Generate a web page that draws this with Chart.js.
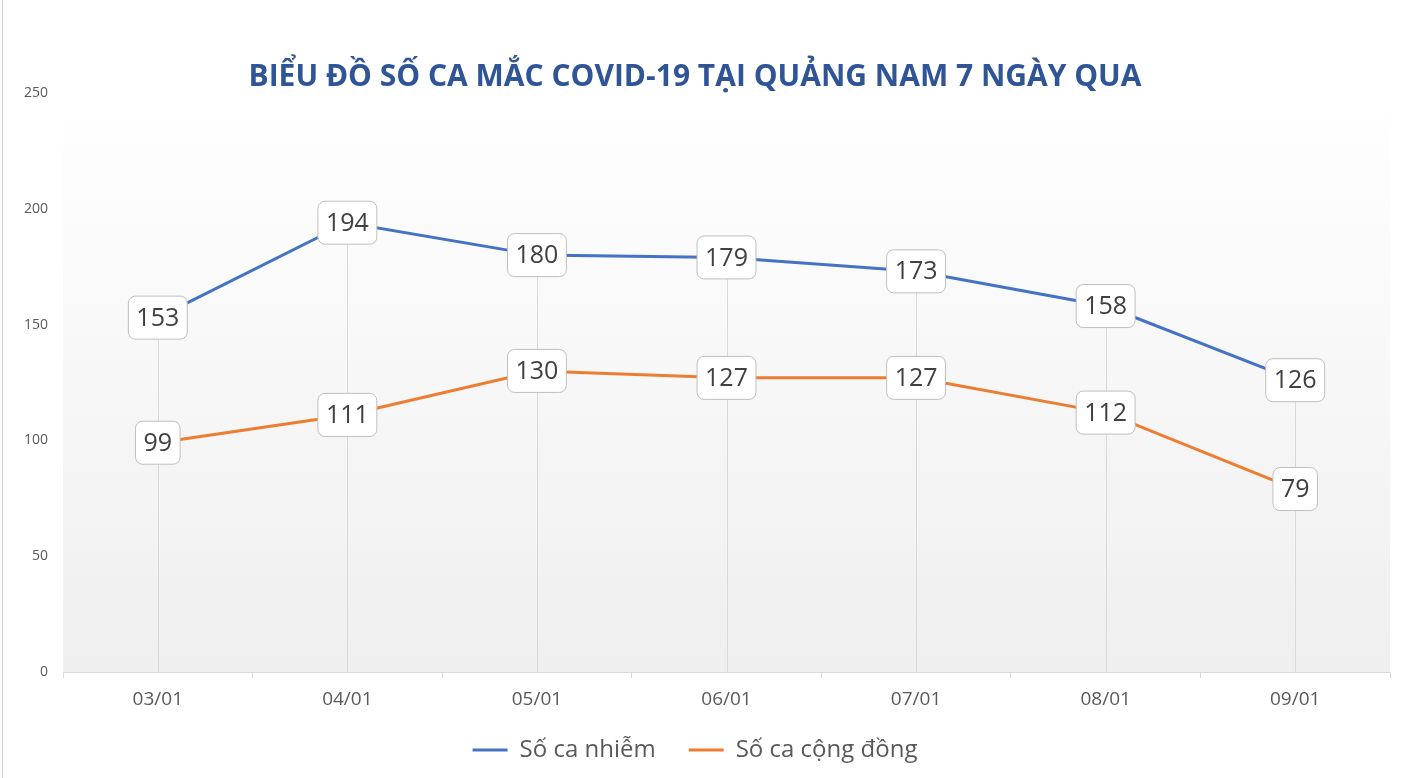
<!DOCTYPE html>
<html>
<head>
<meta charset="utf-8">
<script src="https://cdn.jsdelivr.net/npm/chart.js@4.4.1/dist/chart.umd.min.js"></script>
<style>
  html, body { margin: 0; padding: 0; background: #fff; }
  #wrap { position: relative; width: 1408px; height: 778px; }
  #edge { position: absolute; left: 2px; top: 0; width: 1px; height: 778px; background: #d4d4d4; }
</style>
</head>
<body>
<div id="wrap">
  <div id="edge"></div>
  <canvas id="covidChart" width="1408" height="778"></canvas>
</div>
<script>
const days = ['03/01', '04/01', '05/01', '06/01', '07/01', '08/01', '09/01'];
const infected = [153, 194, 180, 179, 173, 158, 126];
const community = [99, 111, 130, 127, 127, 112, 79];
const yTicks = [0, 50, 100, 150, 200, 250];

// plot background gradient + drop lines from the highest point to the axis
const dropLines = {
  id: 'dropLines',
  beforeDatasetsDraw(chart) {
    const { ctx, chartArea } = chart;
    const g = ctx.createLinearGradient(0, chartArea.top, 0, chartArea.bottom);
    g.addColorStop(0, '#ffffff');
    g.addColorStop(0.12, '#fdfdfd');
    g.addColorStop(1, '#efefef');
    ctx.save();
    ctx.fillStyle = g;
    ctx.fillRect(chartArea.left, chartArea.top, chartArea.right - chartArea.left, chartArea.bottom - chartArea.top);
    ctx.strokeStyle = '#d9d9d9';
    ctx.lineWidth = 1;
    const a = chart.getDatasetMeta(0).data;
    const b = chart.getDatasetMeta(1).data;
    a.forEach((p, i) => {
      const top = Math.min(p.y, b[i].y);
      const x = Math.round(p.x) + 0.5;
      ctx.beginPath();
      ctx.moveTo(x, top);
      ctx.lineTo(x, chartArea.bottom);
      ctx.stroke();
    });
    ctx.restore();
  }
};

// boxed value labels on each point
const valueBoxes = {
  id: 'valueBoxes',
  afterDatasetsDraw(chart) {
    const { ctx } = chart;
    ctx.save();
    ctx.font = '25px "Open Sans", sans-serif';
    ctx.textAlign = 'center';
    ctx.textBaseline = 'middle';
    chart.data.datasets.forEach((ds, di) => {
      chart.getDatasetMeta(di).data.forEach((p, i) => {
        const txt = String(ds.data[i]);
        const w = ctx.measureText(txt).width + 16;
        const h = 43;
        ctx.beginPath();
        ctx.roundRect(p.x - w / 2, p.y - h / 2, w, h, 7);
        ctx.fillStyle = '#ffffff';
        ctx.fill();
        ctx.strokeStyle = '#bfbfbf';
        ctx.lineWidth = 1;
        ctx.stroke();
        ctx.fillStyle = '#404040';
        ctx.fillText(txt, p.x, p.y + 1);
      });
    });
    ctx.restore();
  }
};

new Chart(document.getElementById('covidChart'), {
  type: 'line',
  data: {
    labels: days,
    datasets: [
      {
        label: 'Số ca nhiễm',
        data: infected,
        borderColor: '#4472c4',
        backgroundColor: '#4472c4',
        borderWidth: 3,
        pointRadius: 0,
        tension: 0
      },
      {
        label: 'Số ca cộng đồng',
        data: community,
        borderColor: '#ed7d31',
        backgroundColor: '#ed7d31',
        borderWidth: 3,
        pointRadius: 0,
        tension: 0
      }
    ]
  },
  options: {
    responsive: false,
    animation: false,
    layout: { padding: { left: 0, right: 18, top: 0, bottom: 6 } },
    scales: {
      x: {
        offset: true,
        afterFit(scale) { scale.height = 33; },
        grid: {
          offset: true,
          drawOnChartArea: false,
          color: '#d9d9d9',
          tickLength: 6
        },
        border: { color: '#d9d9d9' },
        ticks: {
          color: '#595959',
          font: { family: 'Open Sans', size: 19 },
          padding: 10
        }
      },
      y: {
        min: 0,
        max: 250,
        afterFit(scale) { scale.width = 63; },
        afterBuildTicks(scale) { scale.ticks = yTicks.map(v => ({ value: v })); },
        grid: { display: false, drawTicks: false },
        border: { display: false },
        ticks: {
          color: '#595959',
          font: { family: 'Open Sans', size: 14 },
          padding: 15
        }
      }
    },
    plugins: {
      title: {
        display: true,
        text: 'BIỂU ĐỒ SỐ CA MẮC COVID-19 TẠI QUẢNG NAM 7 NGÀY QUA',
        color: '#2f5597',
        font: { family: 'Open Sans', size: 30, weight: 'bold' },
        padding: { top: 59, bottom: -2 }
      },
      legend: {
        position: 'bottom',
        labels: {
          usePointStyle: true,
          pointStyle: 'line',
          pointStyleWidth: 35,
          color: '#595959',
          font: { family: 'Open Sans', size: 24 },
          padding: 33
        }
      },
      tooltip: { enabled: false }
    }
  },
  plugins: [dropLines, valueBoxes]
});
</script>
</body>
</html>
